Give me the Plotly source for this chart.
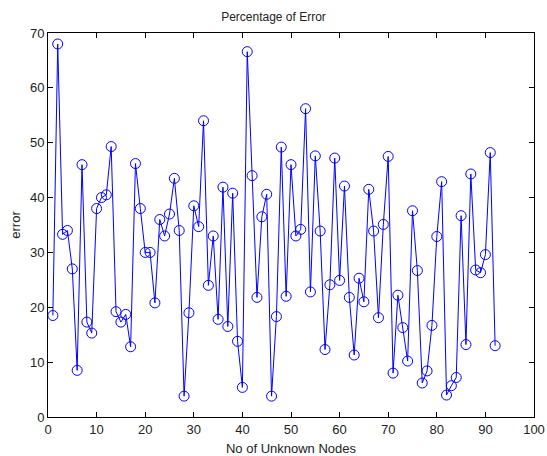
import plotly.graph_objects as go

# Node index and percentage error per unknown node
nodes = list(range(1, 93))
error = [
    18.5, 68.0, 33.3, 34.0, 27.0, 8.5, 46.0, 17.3, 15.3, 38.0,
    40.0, 40.5, 49.3, 19.2, 17.3, 18.7, 12.8, 46.2, 38.0, 30.0,
    30.0, 20.8, 36.0, 33.0, 37.0, 43.5, 34.0, 3.8, 19.0, 38.5,
    34.7, 54.0, 24.0, 33.0, 17.8, 41.9, 16.5, 40.8, 13.8, 5.4,
    66.6, 44.0, 21.8, 36.5, 40.6, 3.8, 18.3, 49.2, 22.0, 46.0,
    33.0, 34.2, 56.2, 22.8, 47.6, 33.9, 12.3, 24.1, 47.2, 24.9,
    42.1, 21.8, 11.3, 25.3, 21.0, 41.5, 33.9, 18.1, 35.1, 47.5,
    8.0, 22.2, 16.3, 10.2, 37.6, 26.7, 6.2, 8.4, 16.7, 32.9,
    42.9, 4.0, 5.7, 7.2, 36.7, 13.2, 44.3, 26.8, 26.3, 29.6,
    48.2, 13.0,
]
x_ticks = list(range(0, 101, 10))
y_ticks = list(range(0, 71, 10))

font_family = "Arial, Liberation Sans"

fig = go.Figure(
    go.Scatter(
        x=nodes,
        y=error,
        mode="lines+markers",
        line=dict(color="#0000ff", width=1),
        marker=dict(symbol="circle-open", size=10, color="#0000ff",
                    line=dict(width=1, color="#0000ff")),
    )
)

axis_common = dict(
    showgrid=False,
    zeroline=False,
    showline=True,
    linecolor="black",
    linewidth=1,
    mirror="ticks",
    ticks="inside",
    ticklen=5,
    tickcolor="black",
    automargin=False,
    tickfont=dict(family=font_family, size=13, color="#222"),
)

fig.update_layout(
    width=547,
    height=456,
    paper_bgcolor="white",
    plot_bgcolor="white",
    showlegend=False,
    margin=dict(l=48, r=13, t=33, b=39),
    title=dict(
        text="Percentage of Error",
        x=0.5, xanchor="center",
        y=1 - 17 / 456, yanchor="middle",
        font=dict(family=font_family, size=12, color="#222"),
    ),
    xaxis=dict(
        range=[0, 100],
        tickvals=x_ticks,
        title=dict(text="No of Unknown Nodes", standoff=8,
                   font=dict(family=font_family, size=13, color="#222")),
        **axis_common,
    ),
    yaxis=dict(
        range=[0, 70],
        tickvals=y_ticks,
        title=dict(text="error", standoff=6,
                   font=dict(family=font_family, size=13, color="#222")),
        **axis_common,
    ),
)

fig.write_html("out.html")
